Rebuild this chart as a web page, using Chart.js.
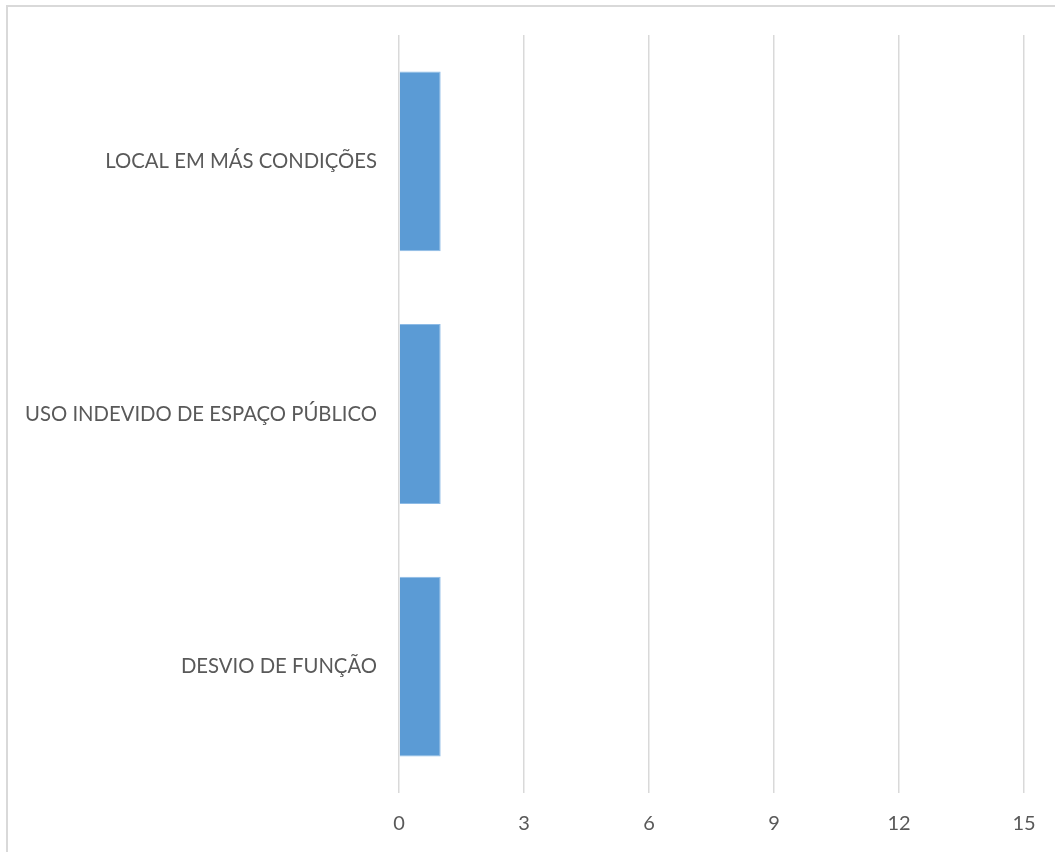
<!DOCTYPE html>
<html>
<head>
<meta charset="utf-8">
<script src="https://cdn.jsdelivr.net/npm/chart.js@4"></script>
<style>
html,body{margin:0;padding:0;background:#fff;overflow:hidden;}
#frame{position:absolute;left:6px;top:5px;width:1200px;height:1000px;border:2px solid #d9d9d9;box-sizing:border-box;}
#wrap{position:absolute;left:0;top:0;width:1055px;height:852px;}
</style>
</head>
<body>
<div id="frame"></div>
<div id="wrap"><canvas id="c" width="1055" height="852"></canvas></div>
<script>
const categories = ["LOCAL EM MÁS CONDIÇÕES", "USO INDEVIDO DE ESPAÇO PÚBLICO", "DESVIO DE FUNÇÃO"];
const values = [1, 1, 1];
const xMin = 0, xMax = 15, xStep = 3;

new Chart(document.getElementById('c'), {
  type: 'bar',
  data: {
    labels: categories,
    datasets: [{
      data: values,
      backgroundColor: '#5B9BD5',
      borderColor: '#8DBBE6',
      borderWidth: 1,
      categoryPercentage: 1,
      barPercentage: 0.712
    }]
  },
  options: {
    indexAxis: 'y',
    responsive: false,
    animation: false,
    layout: { padding: { left: 0, right: 31, top: 35, bottom: 0 } },
    plugins: { legend: { display: false }, tooltip: { enabled: false } },
    scales: {
      x: {
        min: xMin, max: xMax,
        ticks: { stepSize: xStep, color: '#595959', font: { family: 'Lato', size: 20 }, padding: 19 },
        grid: { color: '#d9d9d9', lineWidth: 1.5, drawTicks: false },
        border: { display: false },
        afterFit: s => { s.height = 59; }
      },
      y: {
        ticks: { color: '#595959', font: { family: 'Lato', size: 20.3 }, padding: 22 },
        grid: { display: false, drawTicks: false },
        border: { display: false },
        afterFit: s => { s.width = 399; }
      }
    }
  }
});
</script>
</body>
</html>
